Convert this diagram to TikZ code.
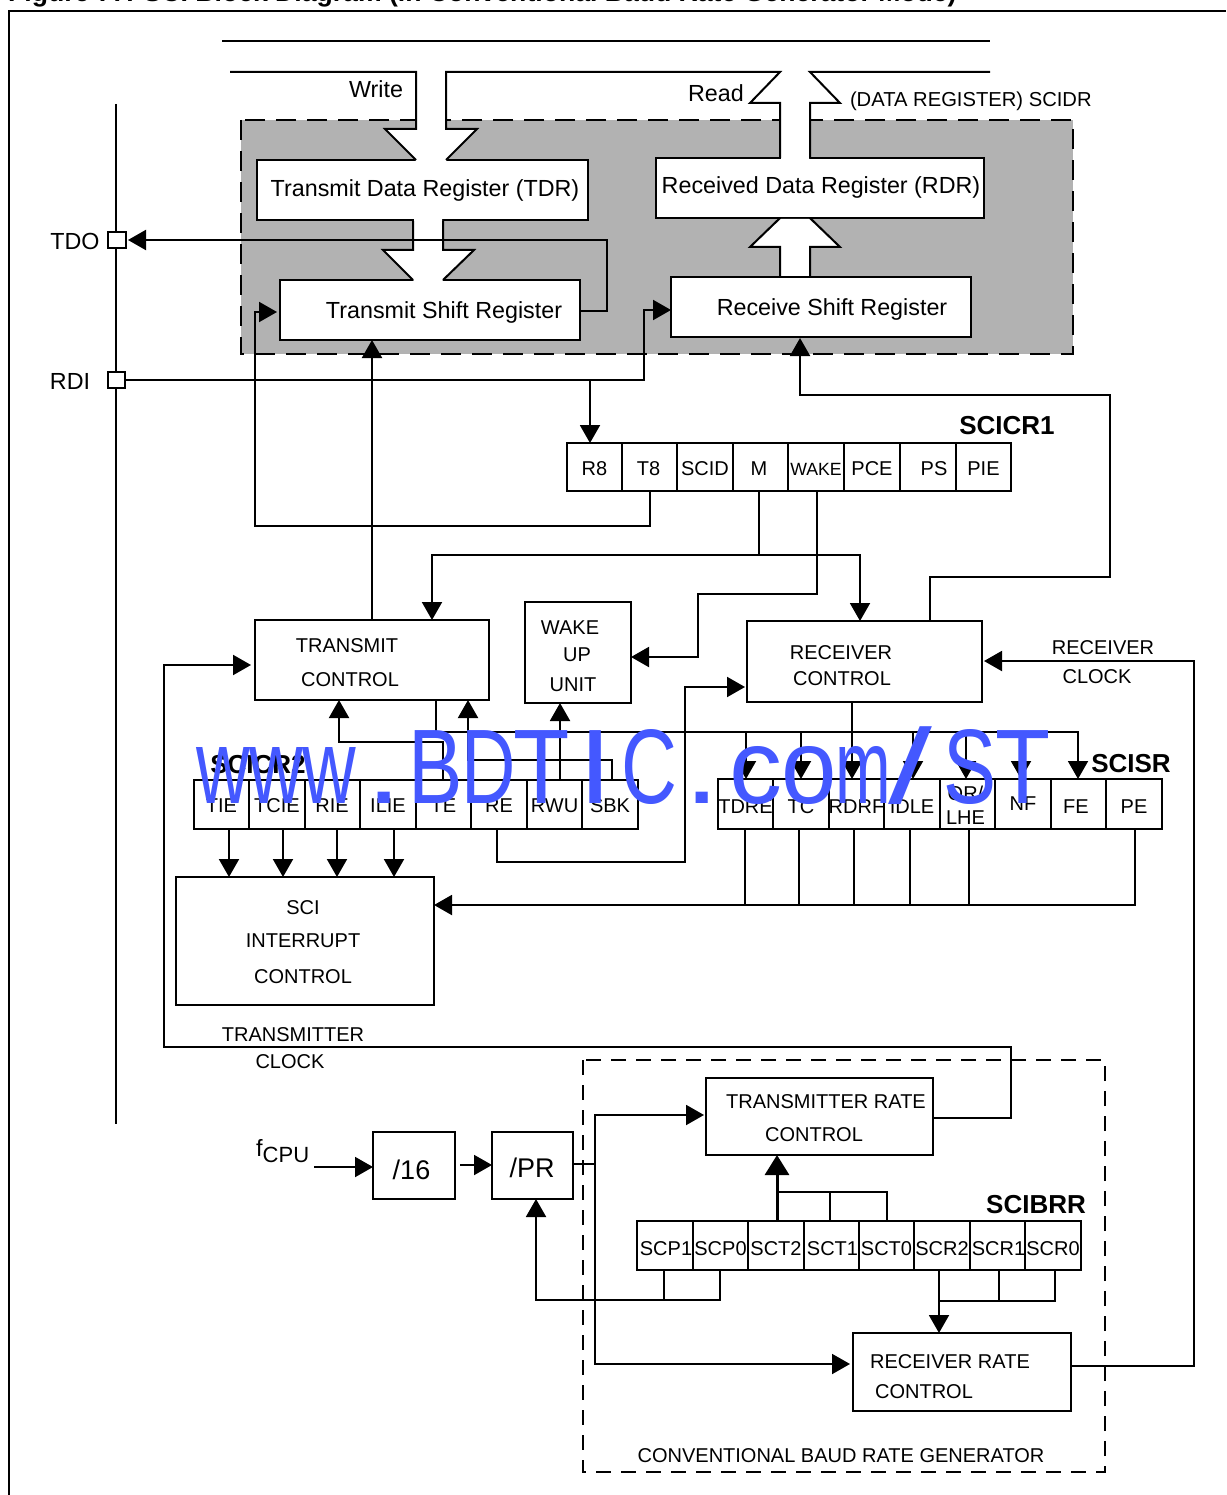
\documentclass[tikz,border=0pt]{standalone}
\usepackage{fontspec}
\setmainfont{Liberation Sans}
\newfontfamily\wmfont{Liberation Sans}
\usetikzlibrary{arrows.meta}
\definecolor{regarea}{HTML}{B2B2B2}
\definecolor{wmblue}{HTML}{4458FF}
\newcommand{\fs}[1]{\fontsize{#1}{#1}\selectfont}
\tikzset{
  x=1pt,y=-1pt,
  >={Triangle[length=18pt,width=20pt]},
  wire/.style={line width=2pt,line join=miter},
  boxnode/.style={draw,line width=2pt,fill=white,inner sep=0pt,outer sep=0pt},
  lab/.style={inner sep=0pt,outer sep=0pt,font=\fs{20},yshift=-1pt},
  big/.style={inner sep=0pt,outer sep=0pt,font=\fs{23.3}},
  head/.style={inner sep=0pt,outer sep=0pt,font=\fs{26}\bfseries},
}
\newcommand{\dropped}[3]{\makebox[0pt][c]{\hspace*{#1pt}\hspace*{#1pt}\raisebox{#2pt}[0pt][0pt]{#3}}}
\newcommand{\wg}[3]{\rlap{\hspace*{#1pt}\scalebox{#2}[1]{#3}}}
\newcommand{\bx}[6][]{%
  \pgfmathsetmacro{\cxv}{(#3+#5)/2}\pgfmathsetmacro{\cyv}{(#4+#6)/2}%
  \pgfmathsetmacro{\wv}{#5-#3}\pgfmathsetmacro{\hv}{#6-#4}%
  \node[boxnode,minimum width=\wv pt,minimum height=\hv pt,#1] (#2) at (\cxv,\cyv) {};}
\newcommand{\rcdrop}{-8}
\newcommand{\rc}[7][0]{% dx name x1 x2 y1 y2 text
  \pgfmathsetmacro{\cxv}{(#3+#4)/2}\pgfmathsetmacro{\cyv}{(#5+#6)/2}%
  \pgfmathsetmacro{\wv}{#4-#3}\pgfmathsetmacro{\hv}{#6-#5}%
  \node[boxnode,fill=none,minimum width=\wv pt,minimum height=\hv pt,font=\fs{20}] (#2) at (\cxv,\cyv) {\dropped{#1}{\rcdrop}{#7}};}
\begin{document}
\begin{tikzpicture}
\useasboundingbox (0,0) rectangle (1226,1495);
\clip (0,0) rectangle (1226,1495);
% title and frame
\node[anchor=base west,inner sep=0pt,font=\fs{26.6}\bfseries] (title) at (8,2) {Figure 77. SCI Block Diagram (in Conventional Baud Rate Generator Mode)};
\coordinate (frameA) at (9,1495);
\coordinate (frameB) at (1226,11);
\draw[wire] (frameA) |- (frameB);
% data bus
\coordinate (busA) at (222,41); \coordinate (busB) at (990,41);
\draw[wire] (busA) -- (busB);
% shaded register area
\fill[regarea] (241,120) rectangle (1073,354);
\draw[line width=2pt,dash pattern=on 20pt off 11pt] (241,120) rectangle (1073,354);
% boxes in the area
\bx{tdr}{257}{160}{588}{220}
\bx{tsr}{280}{280}{580}{340}
\bx{rdr}{656}{158}{984}{218}
\bx{rsr}{671}{277}{971}{337}
% hollow arrows
\fill[white] (416,72) -- (416,129) -- (385,129) -- (416,161) -- (446,161) -- (477,129) -- (446,129) -- (446,72) -- cycle;
\draw[wire] (230,72) -- (416,72) -- (416,129) -- (385,129) -- (416,160);
\fill[white] (781,73) -- (751,103) -- (781,103) -- (781,159) -- (809,159) -- (809,103) -- (839,103) -- (809,73) -- cycle;
\draw[wire] (990,72) -- (810,72) -- (840,103) -- (810,103) -- (810,158);
\draw[wire] (446,160) -- (477,129) -- (446,129) -- (446,72) -- (780,72) -- (750,103) -- (780,103) -- (780,158);
\fill[white] (414,219) -- (414,251) -- (385,251) -- (414,281) -- (442,281) -- (472,251) -- (442,251) -- (442,219) -- cycle;
\draw[wire] (413,221) -- (413,250) -- (383,250) -- (413,280);
\draw[wire] (443,221) -- (443,250) -- (474,250) -- (443,280);
\fill[white] (781,276) -- (781,247) -- (751,247) -- (781,219) -- (809,219) -- (839,247) -- (809,247) -- (809,276) -- cycle;
\draw[wire] (780,277) -- (780,247) -- (750,247) -- (780,218);
\draw[wire] (810,277) -- (810,247) -- (840,247) -- (810,218);
\node[big] (ttdr) at (425,190.5) {Transmit Data Register (TDR)};
\node[big] (ttsr) at (444,312.5) {Transmit Shift Register};
\node[big] (trdr) at (821,187.5) {Received Data Register (RDR)};
\node[big] (trsr) at (832,309.5) {Receive Shift Register};
\node[big] (twrite) at (376,89) {Write};
\node[big] (tread) at (716,93) {Read};
\node[lab,anchor=west,font=\fs{20.2}] (tscidr) at (850,100) {(DATA REGISTER) SCIDR};
% pins
\coordinate (pinA) at (116,104); \coordinate (pinB) at (116,1124);
\draw[wire] (pinA) -- (pinB);
\bx{tdo}{108}{232}{126}{248}
\bx{rdi}{108}{372}{125}{388}
\node[big] (ttdo) at (75,241) {TDO};
\node[big] (trdi) at (70,381) {RDI};
% SCICR1
\renewcommand{\rcdrop}{-8}
\rc{r8}{567}{622}{443}{491}{R8}
\rc[-1]{t8}{622}{677}{443}{491}{T8}
\rc{scid}{677}{733}{443}{491}{SCID}
\rc[-1.5]{m}{733}{788}{443}{491}{M}
\node[boxnode,fill=none,minimum width=56pt,minimum height=48pt,font=\fs{17.7}] (wake) at (816,467) {\dropped{0}{-8.3}{WAKE}};
\rc{pce}{844}{900}{443}{491}{PCE}
\rc[6]{ps}{900}{956}{443}{491}{PS}
\rc{pie}{956}{1011}{443}{491}{PIE}
\node[head] (hcr1) at (1007,426) {SCICR1};
% control blocks
\bx{tc}{255}{620}{489}{700}
\bx{rc}{747}{621}{982}{702}
\bx{wu}{525}{602}{631}{703}
\bx{sic}{176}{877}{434}{1005}
\node[lab] (ta) at (347,645) {TRANSMIT};
\node[lab] (tb) at (350,679) {CONTROL};
\node[lab] (tc1) at (841,652) {RECEIVER};
\node[lab] (tc2) at (842,678) {CONTROL};
\node[lab] (td1) at (570,627) {WAKE};
\node[lab] (td2) at (577,654) {UP};
\node[lab] (td3) at (573,684) {UNIT};
\node[lab] (te1) at (303,907) {SCI};
\node[lab] (te2) at (303,940) {INTERRUPT};
\node[lab] (te3) at (303,976) {CONTROL};
\node[lab] (tf1) at (1103,647) {RECEIVER};
\node[lab] (tf2) at (1097,676) {CLOCK};
\node[lab] (tg1) at (293,1034) {TRANSMITTER};
\node[lab] (tg2) at (290,1061) {CLOCK};
% SCICR2
\renewcommand{\rcdrop}{-8}
\rc{tie}{194}{249}{780}{829}{TIE}
\rc{tcie}{249}{305}{780}{829}{TCIE}
\rc[-0.5]{rie}{305}{360}{780}{829}{RIE}
\rc{ilie}{360}{416}{780}{829}{ILIE}
\rc{te}{416}{471}{780}{829}{TE}
\rc{re}{471}{527}{780}{829}{RE}
\rc{rwu}{527}{582}{780}{829}{RWU}
\rc{sbk}{582}{638}{780}{829}{SBK}
\node[head] (hcr2) at (258,765) {SCICR2};
% SCISR
\renewcommand{\rcdrop}{-9.5}
\rc{tdre}{718}{773}{779}{829}{TDRE}
\rc{tcf}{773}{829}{779}{829}{TC}
\rc{rdrf}{829}{884}{779}{829}{RDRF}
\rc{idle}{884}{940}{779}{829}{IDLE}
\node[boxnode,fill=none,minimum width=55pt,minimum height=50pt,font=\fs{20}] (orf) at (967.5,804) {\dropped{-2}{4}{OR/}\dropped{-2}{-20}{LHE}};
\renewcommand{\rcdrop}{-6.5}
\rc{nf}{995}{1051}{779}{829}{NF}
\renewcommand{\rcdrop}{-9.5}
\rc[-2.5]{fe}{1051}{1106}{779}{829}{FE}
\rc{pe}{1106}{1162}{779}{829}{PE}
\node[head] (hsr) at (1131,764) {SCISR};
% baud rate generator
\draw[line width=2pt,dash pattern=on 15pt off 10pt] (583,1060) rectangle (1105,1472);
\node[lab] (tgen) at (841,1455) {CONVENTIONAL BAUD RATE GENERATOR};
\bx{trc}{706}{1078}{933}{1155}
\bx{rrc}{853}{1333}{1071}{1411}
\node[lab] (th1) at (826,1101) {TRANSMITTER RATE};
\node[lab] (th2) at (814,1134) {CONTROL};
\node[lab] (ti1) at (950,1361) {RECEIVER RATE};
\node[lab] (ti2) at (924,1391) {CONTROL};
\node[boxnode,minimum width=82pt,minimum height=67pt,font=\fs{27}] (d16) at (414,1165.5) {\dropped{-2.5}{-14.2}{/16}};
\node[boxnode,minimum width=81pt,minimum height=67pt,font=\fs{27}] (dpr) at (532.5,1165.5) {\dropped{-0.5}{-12.2}{/PR}};
\node[inner sep=0pt,anchor=base west,font=\fs{23.5}] (fcpu) at (256,1156) {f\raisebox{-6pt}{\fs{22}CPU}};
\renewcommand{\rcdrop}{-10}
\rc[1]{scp1}{637}{693}{1221}{1270}{SCP1}
\rc{scp0}{693}{748}{1221}{1270}{SCP0}
\rc{sct2}{748}{804}{1221}{1270}{SCT2}
\rc[1]{sct1}{804}{859}{1221}{1270}{SCT1}
\rc{sct0}{859}{914}{1221}{1270}{SCT0}
\rc{scr2}{914}{970}{1221}{1270}{SCR2}
\rc[1]{scr1}{970}{1025}{1221}{1270}{SCR1}
\rc{scr0}{1025}{1081}{1221}{1270}{SCR0}
\node[head] (hbrr) at (1036,1205) {SCIBRR};
% connectors
\draw[wire,->,shorten >=2pt] (tsr.east |- 0,311) -- (607,311) -- (607,240) -- (tdo.east);
\coordinate (rdiJ) at (590,380);
\draw[wire,->] (rdi.east) -- (644,380) -- (644,310) -- (rsr.west |- 0,310);
\draw[wire,->] (rdiJ) -- (rdiJ |- r8.north);
\draw[wire,->,shorten >=3pt] (650,0 |- t8.south) -- (650,526) -- (255,526) -- (255,312) -- (tsr.west |- 0,312);
\draw[wire,->] (tc.north) -- (tc.north |- tsr.south);
\draw[wire,->,shorten >=1pt] (930,0 |- rc.north) -- (930,577) -- (1110,577) -- (1110,395) -- (800,395) -- (800,0 |- rsr.south);
\coordinate (mJ) at (759,555);
\draw[wire] (759,0 |- m.south) -- (mJ);
\draw[wire,->] (mJ) -- (432,555) -- (432,0 |- tc.north);
\draw[wire,->] (mJ) -- (860,555) -- (860,0 |- rc.north);
\draw[wire,->] (817,0 |- wake.south) -- (817,594) -- (698,594) -- (698,657) -- (wu.east |- 0,657);
\draw[wire,->,shorten >=2pt] (re.south -| 497,0) -- (497,862) -- (685,862) -- (685,687) -- (rc.west |- 0,687);
\draw[wire,->] (tc.south -| 436,0) -- (436,732) -- (1078,732) -- (1078,0 |- pe.north);
\coordinate (sb) at (852,732);
\draw[wire] (852,0 |- rc.south) -- (sb);
\foreach \xx in {746,801,852,913,966,1021} { \draw[wire,->] (\xx,732) -- (\xx,0 |- tdre.north); }
\draw[wire,->] (te.north -| 443,0) -- (443,742) -- (339,742) -- (339,0 |- tc.south);
\draw[wire,->] (sbk.north -| 612,0) -- (612,760) -- (468,760) -- (468,0 |- tc.south);
\draw[wire,->] (rwu.north -| 560,0) -- (560,0 |- wu.south);
\draw[wire,->] (229,0 |- tie.south) -- (229,0 |- sic.north);
\draw[wire,->] (283,0 |- tie.south) -- (283,0 |- sic.north);
\draw[wire,->] (337,0 |- tie.south) -- (337,0 |- sic.north);
\draw[wire,->] (394,0 |- tie.south) -- (394,0 |- sic.north);
\draw[wire,->] (pe.south -| 1135,0) -- (1135,905) -- (sic.east |- 0,905);
\foreach \xx in {745,799,854,910,969} { \draw[wire] (\xx,0 |- tdre.south) -- (\xx,905); }
\draw[wire,->,shorten >=4pt] (trc.east |- 0,1118) -- (1011,1118) -- (1011,1047) -- (164,1047) -- (164,665) -- (tc.west |- 0,665);
\draw[wire,->,shorten >=2pt] (rrc.east |- 0,1366) -- (1194,1366) -- (1194,661) -- (rc.east |- 0,661);
\coordinate (fcpuO) at (314,1167);
\draw[wire,->] (fcpuO) -- (d16.west |- 0,1167);
\coordinate (d16O) at (460,1165);
\draw[wire,->] (d16O) -- (dpr.west |- 0,1165);
\coordinate (prJ) at (595,1164);
\draw[wire] (dpr.east |- 0,1164) -- (prJ);
\draw[wire,->,shorten >=2pt] (prJ) -- (595,1115) -- (trc.west |- 0,1115);
\draw[wire,->,shorten >=3pt] (prJ) -- (595,1364) -- (rrc.west |- 0,1364);
\draw[line width=3pt,-{Triangle[length=20pt,width=24pt]}] (777,0 |- sct2.north) -- (777,0 |- trc.south);
\draw[wire] (777,1192) -- (887,1192) -- (887,0 |- sct0.north);
\draw[wire] (830,1192) -- (830,0 |- sct1.north);
\draw[wire,->] (720,0 |- scp0.south) -- (720,1300) -- (536,1300) -- (536,0 |- dpr.south);
\draw[wire] (664,0 |- scp1.south) -- (664,1300);
\draw[wire,->] (939,0 |- scr2.south) -- (939,0 |- rrc.north);
\draw[wire] (939,1301) -- (1055,1301) -- (1055,0 |- scr0.south);
\draw[wire] (999,0 |- scr1.south) -- (999,1301);
% watermark
\node[inner sep=0pt,anchor=base west,text=wmblue,font=\wmfont\fs{106}] (wm) at (197,803) {\wg{-1.2}{0.7}{w}\wg{51.8}{0.7}{w}\wg{104.8}{0.7}{w}\wg{169.4}{1.2}{.}\wg{211}{0.77}{B}\wg{264.1}{0.71}{D}\wg{315.9}{0.87}{T}\wg{381.6}{1.16}{I}\wg{424.1}{0.73}{C}\wg{487.4}{1.2}{.}\wg{531.8}{1}{c}\wg{584.4}{0.94}{o}\wg{638.6}{0.63}{m}\wg{691}{1.49}{/}\wg{746.3}{0.75}{S}\wg{797.9}{0.85}{T}\hspace*{853pt}};
\end{tikzpicture}
\end{document}
